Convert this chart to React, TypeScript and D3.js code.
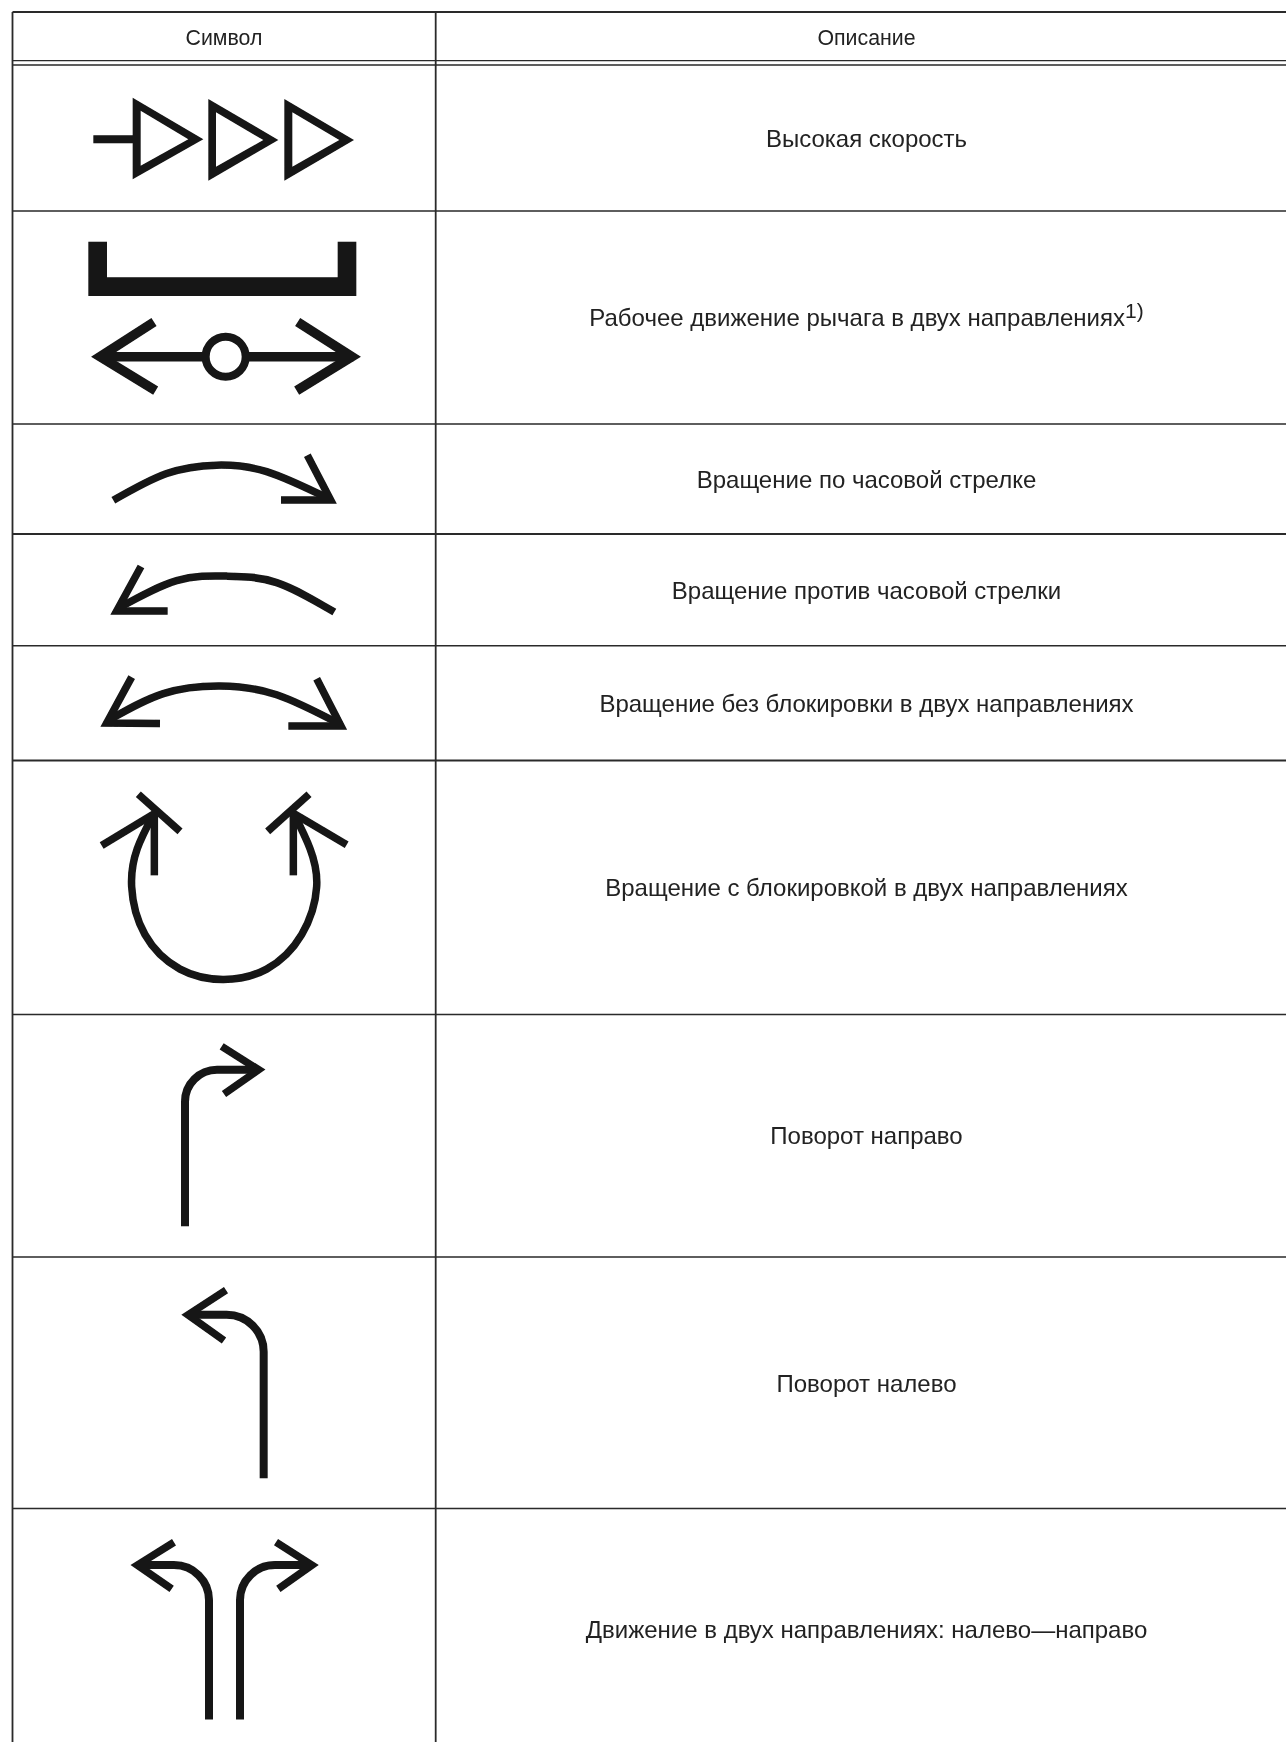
import React from 'react';
import * as d3 from 'd3';

const WIDTH = 1286;
const HEIGHT = 1742;

const headerLabels = ['Символ', 'Описание'];
const descriptions = [
  'Высокая скорость',
  'Рабочее движение рычага в двух направлениях',
  'Вращение по часовой стрелке',
  'Вращение против часовой стрелки',
  'Вращение без блокировки в двух направлениях',
  'Вращение с блокировкой в двух направлениях',
  'Поворот направо',
  'Поворот налево',
  'Движение в двух направлениях: налево—направо',
];
const textCenters = [138.5, 317.5, 479.5, 590.5, 703.5, 887.5, 1135.5, 1383.5, 1629.5];

// table rules
const columnRules = [12.5, 435.7];
const rowRules = [12, 60.7, 65, 211, 424, 534, 645.8, 760.6, 1014.5, 1257, 1508.5];
const ruleWeights = [2.2, 1.3, 1.3, 1.6, 1.6, 2, 1.5, 2, 1.5, 1.4, 1.5];

type Pt = [number, number];
// bend: pts are start, corner, end and the value is the corner radius
type Stroke = { pts: Pt[]; curved?: boolean; bend?: number };

// symbols are in crop units, each block of rows with its own y mapping
const triangles: { outer: Pt[]; inner: Pt[] }[] = [
  { outer: [[398, 293], [398, 538], [610, 418]], inner: [[422, 332], [422, 497], [565, 418]] },
  { outer: [[625, 297], [625, 542], [835, 420]], inner: [[648, 337], [648, 500], [790, 420]] },
  { outer: [[853, 297], [853, 542], [1062, 420]], inner: [[877, 337], [877, 500], [1018, 420]] },
];
const speedTail: Pt[] = [[280, 418], [400, 418]];

const bracket: Pt[] = [
  [265, 725], [321, 725], [321, 832], [1013, 832], [1013, 725], [1069, 725], [1069, 888], [265, 888],
];
const leverShaft: Pt[] = [[300, 1070], [1060, 1070]];
const leverHeads: Pt[][] = [
  [[462, 966], [300, 1070], [467, 1172]],
  [[893, 966], [1056, 1070], [890, 1172]],
];
const leverPivot = { at: [677, 1070] as Pt, r: 60 };

const clockwise: Stroke[] = [
  { pts: [[340, 210], [500, 140], [650, 118], [800, 135], [985, 205]], curved: true },
  { pts: [[922, 92], [992, 209], [843, 209]] },
];
const counterClockwise: Stroke[] = [
  { pts: [[1003, 502], [830, 425], [680, 408], [530, 420], [355, 492]], curved: true },
  { pts: [[423, 383], [350, 499], [503, 499]] },
];
const bothWays: Stroke[] = [
  { pts: [[325, 785], [490, 715], [660, 695], [830, 718], [1020, 795]], curved: true },
  { pts: [[395, 672], [320, 792], [480, 793]] },
  { pts: [[950, 676], [1023, 800], [865, 800]] },
];
const lockedBothWays: Stroke[] = [
  {
    pts: [[458, 1035], [412, 1120], [395, 1220], [435, 1345], [540, 1435], [670, 1462], [800, 1435], [905, 1345], [950, 1220], [930, 1120], [885, 1035]],
    curved: true,
  },
  { pts: [[305, 1112], [470, 1025]] },
  { pts: [[415, 978], [540, 1075]] },
  { pts: [[463, 1190], [463, 1025]] },
  { pts: [[1040, 1110], [875, 1025]] },
  { pts: [[927, 978], [803, 1075]] },
  { pts: [[880, 1190], [880, 1025]] },
];
const turnRight: Stroke[] = [
  { pts: [[555, 463], [555, 128], [770, 128]], bend: 32 },
  { pts: [[665, 78], [776, 128], [672, 180]] },
];
const turnLeft: Stroke[] = [
  { pts: [[791, 1003], [791, 653], [570, 653]], bend: 37 },
  { pts: [[678, 600], [564, 653], [672, 708]] },
];
const forkBoth: Stroke[] = [
  { pts: [[627, 1520], [627, 1189], [415, 1189]], bend: 35 },
  { pts: [[522, 1140], [412, 1189], [515, 1240]] },
  { pts: [[720, 1520], [720, 1189], [935, 1189]], bend: 35 },
  { pts: [[828, 1140], [936, 1189], [835, 1240]] },
];

const x = d3.scaleLinear().domain([0, 1320]).range([0, 440]);
const yTop = d3.scaleLinear().domain([0, 1290]).range([0, 430]);
const yMiddle = d3.scaleLinear().domain([0, 1568]).range([420, 1020]);
const yBottom = d3.scaleLinear().domain([0, 1568]).range([1010, 1742]);

const INK = '#141414';
const RULE = '#2a2a2a';
const FONT = '"Liberation Sans", Arial, sans-serif';

function StrokeGroup({ strokes, y, width = 7.5 }: { strokes: Stroke[]; y: d3.ScaleLinear<number, number>; width?: number }) {
  const straight = d3.line<Pt>().x((d) => x(d[0])).y((d) => y(d[1]));
  const curved = d3
    .line<Pt>()
    .x((d) => x(d[0]))
    .y((d) => y(d[1]))
    .curve(d3.curveNatural);

  const toPath = (s: Stroke) => {
    if (s.bend) {
      const [a, b, c] = s.pts;
      const p = d3.path();
      p.moveTo(x(a[0]), y(a[1]));
      p.arcTo(x(b[0]), y(b[1]), x(c[0]), y(c[1]), s.bend);
      p.lineTo(x(c[0]), y(c[1]));
      return p.toString();
    }
    return (s.curved ? curved : straight)(s.pts) || '';
  };

  return (
    <g fill="none" stroke={INK} strokeWidth={width} strokeMiterlimit={12}>
      {strokes.map((s, i) => (
        <path key={i} d={toPath(s)} strokeWidth={s.bend ? 8 : width} />
      ))}
    </g>
  );
}

export default function App() {
  const poly = d3.line<Pt>().x((d) => x(d[0])).y((d) => yTop(d[1]));
  const closed = (pts: Pt[]) => poly(pts) + 'Z';

  return (
    <svg
      width={WIDTH}
      height={HEIGHT}
      viewBox={`0 0 ${WIDTH} ${HEIGHT}`}
      style={{ position: 'absolute', top: 0, left: 0, display: 'block', background: '#fff' }}
    >
      <defs>
        <filter id="scan" x="0" y="0" width="100%" height="100%" filterUnits="userSpaceOnUse">
          <feGaussianBlur stdDeviation="0.45" />
        </filter>
      </defs>

      <g filter="url(#scan)">
        {rowRules.map((ry, i) => (
          <line key={ry} x1={columnRules[0]} x2={WIDTH} y1={ry} y2={ry} stroke={RULE} strokeWidth={ruleWeights[i]} />
        ))}
        {columnRules.map((cx) => (
          <line key={cx} x1={cx} x2={cx} y1={rowRules[0]} y2={HEIGHT} stroke={RULE} strokeWidth={1.8} />
        ))}

        <g fontFamily={FONT} fontSize={24} fill="#222" textAnchor="middle">
          <text x={224} y={37.5} dominantBaseline="central" fontSize={21.3}>{headerLabels[0]}</text>
          <text x={866.5} y={37.5} dominantBaseline="central" fontSize={21.3}>{headerLabels[1]}</text>
          {descriptions.map((label, i) => (
            <text key={label} x={866.5} y={textCenters[i]} dominantBaseline="central">
              {label}
              {i === 1 && (
                <tspan dy={-8} fontSize={21}>1)</tspan>
              )}
            </text>
          ))}
        </g>

        {/* high speed */}
        <g fill={INK} fillRule="evenodd">
          {triangles.map((t, i) => (
            <path key={i} d={closed(t.outer) + closed(t.inner)} />
          ))}
        </g>
        <StrokeGroup strokes={[{ pts: speedTail }]} y={yTop} width={8} />

        {/* lever */}
        <path d={closed(bracket)} fill={INK} />
        <StrokeGroup strokes={[{ pts: leverShaft }, ...leverHeads.map((pts) => ({ pts }))]} y={yTop} width={9.5} />
        <circle
          cx={x(leverPivot.at[0])}
          cy={yTop(leverPivot.at[1])}
          r={x(leverPivot.r)}
          fill="#fff"
          stroke={INK}
          strokeWidth={8}
        />

        <StrokeGroup strokes={clockwise} y={yMiddle} />
        <StrokeGroup strokes={counterClockwise} y={yMiddle} />
        <StrokeGroup strokes={bothWays} y={yMiddle} />
        <StrokeGroup strokes={lockedBothWays} y={yMiddle} />
        <StrokeGroup strokes={turnRight} y={yBottom} />
        <StrokeGroup strokes={turnLeft} y={yBottom} />
        <StrokeGroup strokes={forkBoth} y={yBottom} />
      </g>
    </svg>
  );
}
